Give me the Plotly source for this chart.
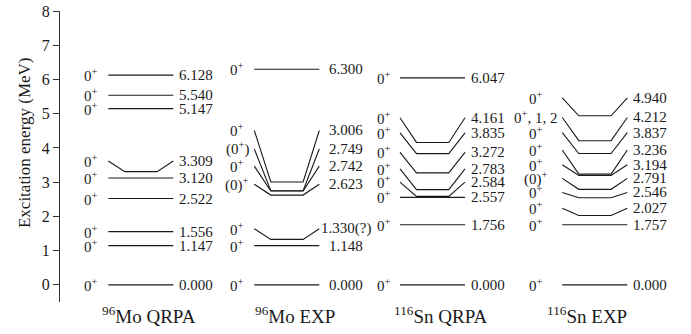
import plotly.graph_objects as go

# ---------------- data ----------------
column_titles = ["<sup>96</sup>Mo QRPA", "<sup>96</sup>Mo EXP",
                 "<sup>116</sup>Sn QRPA", "<sup>116</sup>Sn EXP"]

mo_qrpa_energy = [0.000, 1.147, 1.556, 2.522, 3.120, 3.309, 5.147, 5.540, 6.128]
mo_qrpa_label_at = [0.000, 1.147, 1.556, 2.522, 3.120, 3.62, 5.147, 5.540, 6.128]
mo_qrpa_spin = ["0+", "0+", "0+", "0+", "0+", "0+", "0+", "0+", "0+"]
mo_qrpa_suffix = ["", "", "", "", "", "", "", "", ""]

mo_exp_energy = [0.000, 1.148, 1.330, 2.623, 2.742, 2.749, 3.006, 6.300]
mo_exp_label_at = [0.000, 1.148, 1.64, 2.94, 3.47, 3.97, 4.51, 6.300]
mo_exp_spin = ["0+", "0+", "0+", "(0)+", "0+", "(0+)", "0+", "0+"]
mo_exp_suffix = ["", "", "(?)", "", "", "", "", ""]

sn_qrpa_energy = [0.000, 1.756, 2.557, 2.584, 2.783, 3.272, 3.835, 4.161, 6.047]
sn_qrpa_label_at = [0.000, 1.756, 2.557, 3.00, 3.39, 3.87, 4.44, 4.88, 6.047]
sn_qrpa_spin = ["0+", "0+", "0+", "0+", "0+", "0+", "0+", "0+", "0+"]
sn_qrpa_suffix = ["", "", "", "", "", "", "", "", ""]

sn_exp_energy = [0.000, 1.757, 2.027, 2.546, 2.791, 3.194, 3.236, 3.837, 4.212, 4.940]
sn_exp_label_at = [0.000, 1.757, 2.24, 2.70, 3.11, 3.51, 3.94, 4.45, 4.89, 5.46]
sn_exp_spin = ["0+", "0+", "0+", "0+", "(0)+", "0+", "0+", "0+", "0+, 1, 2", "0+"]
sn_exp_suffix = ["", "", "", "", "", "", "", "", "", ""]

y_ticks = [0, 1, 2, 3, 4, 5, 6, 7, 8]

# ---------------- layout constants (x in pixel-like units) ----------------
col_line_start = [108.3, 254.3, 400.0, 562.3]
col_spin_center = [90.5, 237.0, 384.0, 535.5]
col_value_center = [196.0, 345.5, 488.0, 650.0]
col_title_center = [149.0, 295.3, 440.8, 586.7]
BEND1, BEND2, LEN = 16.5, 48.8, 65.0

FONT = "Liberation Serif"
INK = "#1a1a1a"

columns = [
    (mo_qrpa_energy, mo_qrpa_label_at, mo_qrpa_spin, mo_qrpa_suffix),
    (mo_exp_energy, mo_exp_label_at, mo_exp_spin, mo_exp_suffix),
    (sn_qrpa_energy, sn_qrpa_label_at, sn_qrpa_spin, sn_qrpa_suffix),
    (sn_exp_energy, sn_exp_label_at, sn_exp_spin, sn_exp_suffix),
]

M_L, M_T, M_B = 60, 10.5, 31.5
PLOT_W, PLOT_H = 691 - M_L, 334 - M_T - M_B
X_RANGE = [60, 691]


def px_to_paper_x(px):
    return (px - X_RANGE[0]) / (X_RANGE[1] - X_RANGE[0])


def py_to_paper_y(py):
    return (334 - M_B - py) / PLOT_H


fig = go.Figure()
annotations = []

for ci, (energy, label_at, spin, suffix) in enumerate(columns):
    x0 = col_line_start[ci]
    for e, lab, sp, suf in zip(energy, label_at, spin, suffix):
        fig.add_trace(go.Scatter(
            x=[x0, x0 + BEND1, x0 + BEND2, x0 + LEN],
            y=[lab, e, e, lab],
            mode="lines",
            line=dict(color=INK, width=1.1),
            hoverinfo="skip",
            showlegend=False,
        ))
        annotations.append(dict(
            x=col_spin_center[ci], y=lab, xref="x", yref="y",
            text=sp.replace("+", "<sup>+</sup>"),
            showarrow=False, xanchor="center", yanchor="middle",
            font=dict(family=FONT, size=15, color=INK),
        ))
        annotations.append(dict(
            x=col_value_center[ci], y=lab, xref="x", yref="y",
            text=f"{e:.3f}{suf}",
            showarrow=False, xanchor="center", yanchor="middle",
            font=dict(family=FONT, size=15, color=INK),
        ))
    annotations.append(dict(
        x=px_to_paper_x(col_title_center[ci]), y=py_to_paper_y(315.5),
        xref="paper", yref="paper",
        text=column_titles[ci],
        showarrow=False, xanchor="center", yanchor="middle",
        font=dict(family=FONT, size=19, color=INK),
    ))

annotations.append(dict(
    x=px_to_paper_x(24), y=py_to_paper_y(143), xref="paper", yref="paper",
    text="Excitation energy (MeV)", textangle=-90,
    showarrow=False, xanchor="center", yanchor="middle",
    font=dict(family=FONT, size=17, color=INK),
))

fig.update_layout(
    width=691, height=334,
    margin=dict(l=M_L, r=0, t=M_T, b=M_B, pad=0),
    paper_bgcolor="white", plot_bgcolor="white",
    annotations=annotations,
    xaxis=dict(visible=False, range=X_RANGE, fixedrange=True),
    yaxis=dict(
        range=[-0.5, 8],
        tickvals=y_ticks,
        ticktext=[str(t) for t in y_ticks],
        ticks="outside", ticklen=6, tickwidth=1, tickcolor="#333",
        showline=True, linecolor="#333", linewidth=1,
        showgrid=False, zeroline=False,
        tickfont=dict(family=FONT, size=16, color=INK),
    ),
)

fig.write_html("out.html")
